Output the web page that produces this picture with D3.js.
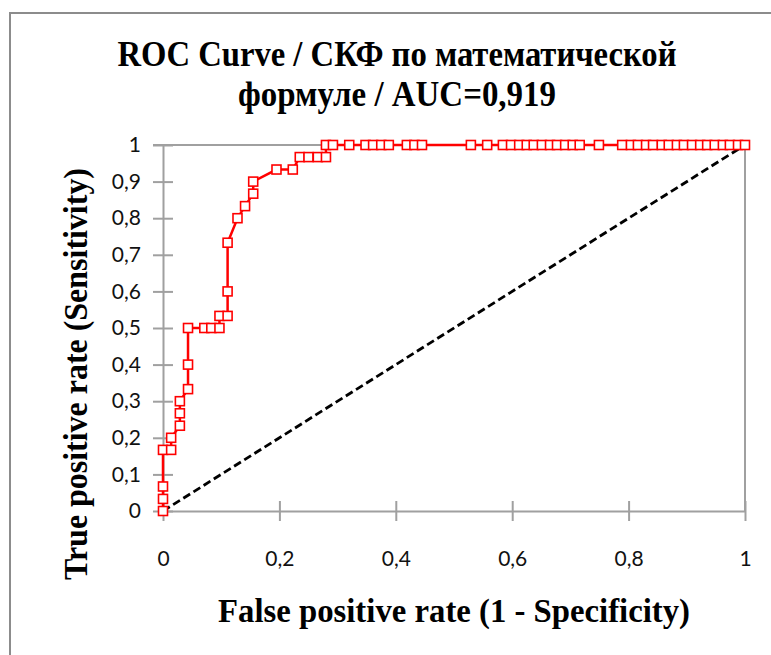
<!DOCTYPE html>
<html>
<head>
<meta charset="utf-8">
<script src="https://cdn.jsdelivr.net/npm/d3@7"></script>
<style>
  body { margin: 0; background: #fff; }
  svg { display: block; }
</style>
</head>
<body>
<div id="chart"></div>
<script>
const width = 771;
const height = 655;

// ROC points (FPR, TPR)
const fpr = [0, 0, 0, 0, 0.014, 0.014, 0.029, 0.029, 0.029, 0.043, 0.043, 0.043,
    0.071, 0.083, 0.097, 0.097, 0.111, 0.111, 0.111, 0.128, 0.141, 0.155, 0.155,
    0.195, 0.223, 0.235, 0.25, 0.266, 0.28, 0.28, 0.292, 0.32, 0.348, 0.361, 0.375,
    0.388, 0.419, 0.432, 0.445, 0.529, 0.557, 0.584, 0.598, 0.612, 0.625, 0.637,
    0.651, 0.665, 0.677, 0.691, 0.704, 0.716, 0.749, 0.789, 0.804, 0.816, 0.83,
    0.842, 0.857, 0.869, 0.883, 0.895, 0.909, 0.923, 0.935, 0.948, 0.962, 0.974,
    0.988, 1];
const tpr = [0, 0.033, 0.067, 0.167, 0.167, 0.2, 0.233, 0.267, 0.3, 0.333, 0.4, 0.5,
    0.5, 0.5, 0.5, 0.533, 0.533, 0.6, 0.733, 0.8, 0.833, 0.867, 0.9,
    0.933, 0.933, 0.967, 0.967, 0.967, 0.967, 1, 1, 1, 1, 1, 1,
    1, 1, 1, 1, 1, 1, 1, 1, 1, 1, 1,
    1, 1, 1, 1, 1, 1, 1, 1, 1, 1, 1,
    1, 1, 1, 1, 1, 1, 1, 1, 1, 1, 1,
    1, 1];
const diagonal = [0, 1];

const xTicks = [0, 0.2, 0.4, 0.6, 0.8, 1];
const yTicks = [0, 0.1, 0.2, 0.3, 0.4, 0.5, 0.6, 0.7, 0.8, 0.9, 1];

const titleLines = ["ROC Curve / СКФ по математической", "формуле / AUC=0,919"];
const xTitle = "False positive rate (1 - Specificity)";
const yTitle = "True positive rate (Sensitivity)";

const points = fpr.map((d, i) => ({ x: d, y: tpr[i] }));
const fmt = d => String(d).replace(".", ",");

const svg = d3.select("#chart")
    .append("svg")
    .attr("width", width)
    .attr("height", height);

// chart frame (runs off the right/bottom edge)
svg.append("rect")
    .attr("x", 10).attr("y", 13)
    .attr("width", 800).attr("height", 700)
    .attr("fill", "#fff")
    .attr("stroke", "#8c8c8c")
    .attr("stroke-width", 2);

const x = d3.scaleLinear().domain([0, 1]).range([163, 745]);
const y = d3.scaleLinear().domain([0, 1]).range([511, 145]);

const axisColor = "#a0a0a0";
const serif = "'Liberation Serif', 'Times New Roman', serif";
const sans = "Lato, 'Open Sans', sans-serif";

// top and right edges of the plot area
svg.append("line")
    .attr("x1", x(0) - 10).attr("x2", x(1))
    .attr("y1", y(1)).attr("y2", y(1))
    .attr("stroke", axisColor).attr("stroke-width", 2);
svg.append("line")
    .attr("x1", x(1)).attr("x2", x(1))
    .attr("y1", y(1)).attr("y2", y(0))
    .attr("stroke", axisColor).attr("stroke-width", 2);

// y axis with crossing ticks
const gy = svg.append("g")
    .attr("transform", `translate(${x(0)},0)`)
    .call(d3.axisLeft(y).tickValues(yTicks).tickFormat(fmt).tickSize(10).tickSizeOuter(0).tickPadding(12));
gy.selectAll(".tick line").attr("x1", 10);

// x axis with crossing ticks
const gx = svg.append("g")
    .attr("transform", `translate(0,${y(0)})`)
    .call(d3.axisBottom(x).tickValues(xTicks).tickFormat(fmt).tickSize(10).tickSizeOuter(0).tickPadding(30));
gx.selectAll(".tick line").attr("y1", -10);

svg.selectAll(".domain").attr("stroke", axisColor).attr("stroke-width", 2);
svg.selectAll(".tick line").attr("stroke", axisColor).attr("stroke-width", 2);
svg.selectAll(".tick text")
    .attr("font-family", sans)
    .attr("font-size", 21)
    .attr("fill", "#111");

// reference diagonal
svg.append("line")
    .attr("x1", x(diagonal[0])).attr("y1", y(diagonal[0]))
    .attr("x2", x(diagonal[1])).attr("y2", y(diagonal[1]))
    .attr("stroke", "#000")
    .attr("stroke-width", 2.8)
    .attr("stroke-dasharray", "8,4");

// ROC curve
const line = d3.line().x(d => x(d.x)).y(d => y(d.y));
svg.append("path")
    .datum(points)
    .attr("d", line)
    .attr("fill", "none")
    .attr("stroke", "#ff0000")
    .attr("stroke-width", 2.5);

svg.selectAll(".pt")
    .data(points)
    .enter()
    .append("rect")
    .attr("class", "pt")
    .attr("x", d => x(d.x) - 4.5)
    .attr("y", d => y(d.y) - 4.5)
    .attr("width", 9)
    .attr("height", 9)
    .attr("fill", "#fff")
    .attr("stroke", "#ff0000")
    .attr("stroke-width", 1.6);

// title
const titleWidths = [559, 318];
svg.selectAll(".title")
    .data(titleLines)
    .enter()
    .append("text")
    .attr("class", "title")
    .attr("x", 397)
    .attr("y", (d, i) => 66 + i * 40)
    .attr("text-anchor", "middle")
    .attr("font-family", serif)
    .attr("font-weight", "bold")
    .attr("font-size", 35)
    .attr("textLength", (d, i) => titleWidths[i])
    .attr("lengthAdjust", "spacingAndGlyphs")
    .text(d => d);

// axis titles
svg.append("text")
    .attr("x", 454)
    .attr("y", 622)
    .attr("text-anchor", "middle")
    .attr("font-family", serif)
    .attr("font-weight", "bold")
    .attr("font-size", 33)
    .attr("textLength", 472)
    .attr("lengthAdjust", "spacingAndGlyphs")
    .text(xTitle);

svg.append("text")
    .attr("transform", "translate(87,374) rotate(-90)")
    .attr("text-anchor", "middle")
    .attr("font-family", serif)
    .attr("font-weight", "bold")
    .attr("font-size", 33)
    .attr("textLength", 412)
    .attr("lengthAdjust", "spacingAndGlyphs")
    .text(yTitle);
</script>
</body>
</html>
